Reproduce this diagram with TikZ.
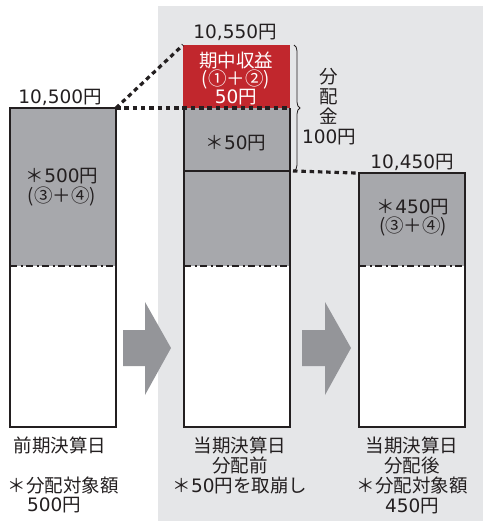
\documentclass[tikz,border=0pt]{standalone}
\usepackage{fontspec}
\setmainfont{Noto Sans CJK JP}
\newfontfamily\numfont{DejaVu Sans}
\newcommand\numf[1]{{\numfont #1}}
\usetikzlibrary{decorations.pathreplacing}
\definecolor{bg}{HTML}{E5E6E8}
\definecolor{boxgray}{HTML}{A7A8AC}
\definecolor{redbox}{HTML}{C1272D}
\definecolor{arrowgray}{HTML}{949599}
\definecolor{ink}{HTML}{231F20}
\tikzset{
  part/.style={anchor=north west, inner sep=0pt, outer sep=0pt, minimum width=106pt},
  grayp/.style={part, fill=boxgray},
  whitep/.style={part, fill=white},
  outline/.style={draw=ink, line width=2pt},
  dashdot/.style={draw=ink, line width=2.2pt, dash pattern=on 7pt off 3.5pt on 2pt off 3.5pt},
  dotline/.style={draw=ink, line width=3.2pt, dash pattern=on 4.5pt off 3.8pt},
  lbl/.style={text=ink, font=\fontsize{18.5}{18}\selectfont, inner sep=0pt, align=center},
  lbl19/.style={lbl, font=\fontsize{18.5}{19.5}\selectfont},
  lbl20/.style={lbl, font=\fontsize{18.5}{20}\selectfont},
  wlbl/.style={lbl, text=white},
  bigarrow/.style={fill=arrowgray},
}
\begin{document}
\begin{tikzpicture}[x=1pt, y=-1pt]
\useasboundingbox (0,0) rectangle (483,522);
\fill[bg] (158,6) rectangle (483,521);
% left column
\node[grayp, minimum height=158pt] (Lg) at (10,108) {};
\node[whitep, minimum height=161pt] (Lw) at (10,266) {};
\draw[dashdot] (Lg.south west) -- (Lg.south east);
\draw[outline] (Lg.north west) rectangle (Lw.south east);
% middle column
\node[part, fill=redbox, minimum width=107pt, minimum height=63pt] (Mr) at (183,45) {};
\node[grayp, minimum height=63pt] (Mg1) at (184,108) {};
\node[grayp, minimum height=95pt] (Mg2) at (184,171) {};
\node[whitep, minimum height=161pt] (Mw) at (184,266) {};
\draw[dashdot] (Mg2.south west) -- (Mg2.south east);
\draw[outline] (Mg1.north west) -- (Mw.south west) -- (Mw.south east) -- (Mg1.north east);
\draw[outline] (Mg1.south west) -- (Mg1.south east);
% right column
\node[grayp, minimum height=93pt] (Rg) at (359,173) {};
\node[whitep, minimum height=161pt] (Rw) at (359,266) {};
\draw[dashdot] (Rg.south west) -- (Rg.south east);
\draw[outline] (Rg.north west) rectangle (Rw.south east);
% dotted connectors
\draw[dotline] (Lg.north east) -- (Mr.north west);
\draw[dotline] (Lg.north east) -- (Mg1.north east);
\draw[dotline] ([xshift=3pt]Mg1.south east) -- ([xshift=-3pt]Rg.north west);
% brace
\draw[ink, line width=0.8pt, decorate, decoration={brace, amplitude=6pt, aspect=0.5}] (294,45) -- (294,171);
% arrows
\fill[bigarrow] (123,330) -- (145,330) -- (145,302) -- (171,348) -- (145,395) -- (145,366) -- (123,366) -- cycle;
\fill[bigarrow] (302,330) -- (325,330) -- (325,302) -- (351,348) -- (325,395) -- (325,366) -- (302,366) -- cycle;
% labels
\node[lbl] (t1) at (60,97) {\numf{10,500}円};
\node[lbl] (t2) at (235,32) {\numf{10,550}円};
\node[lbl] (t3) at (412,162) {\numf{10,450}円};
\node[wlbl] (r1) at (236,78) {期中収益\\(①＋②)\\\numf{50}円};
\node[lbl] (m1) at (236,143) {＊\numf{50}円};
\node[lbl19] (l1) at (62,187) {＊\numf{500}円\\(③＋④)};
\node[lbl19] (q1) at (413,217.5) {＊\numf{450}円\\(③＋④)};
\node[lbl20] (d1) at (329,107) {分\\配\\金\\\numf{100}円};
\node[lbl] (b1) at (60,445) {前期決算日};
\node[lbl] (b2) at (63,485) {＊分配対象額};
\node[lbl] (b3) at (54,505) {\numf{500}円};
\node[lbl20] (c1) at (240,465) {当期決算日\\分配前\\＊\numf{50}円を取崩し};
\node[lbl20] (e1) at (412,475) {当期決算日\\分配後\\＊分配対象額\\\numf{450}円};
\end{tikzpicture}
\end{document}
